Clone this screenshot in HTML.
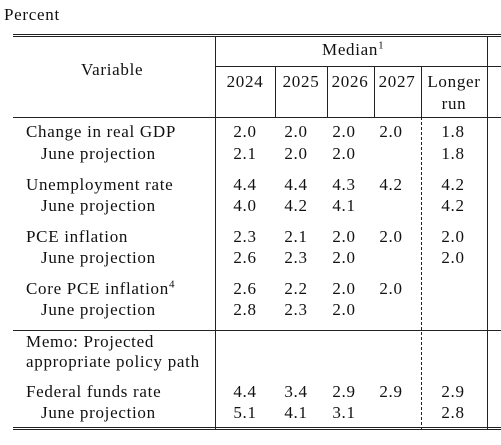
<!DOCTYPE html>
<html><head><meta charset="utf-8">
<style>
html,body{margin:0;padding:0;background:#fff;}
#c{position:relative;width:501px;height:445px;overflow:hidden;font-family:"Liberation Serif",serif;font-size:17px;letter-spacing:0.7px;color:#111;}
.t{position:absolute;white-space:nowrap;line-height:18px;}
.h{position:absolute;background:#222;height:1px;}
.v{position:absolute;background:#222;width:1px;}
.d{position:absolute;width:0;border-left:1px dashed #222;}
.n{position:absolute;width:60px;margin-left:-30px;text-align:center;line-height:18px;}
sup{font-size:11px;line-height:0;letter-spacing:0}
</style></head><body>
<div id="c">
<div class="t" style="left:4px;top:6px;">Percent</div>
<div class="h" style="left:13px;top:34px;width:488px;"></div>
<div class="h" style="left:13px;top:36px;width:488px;"></div>
<div class="v" style="left:215px;top:36px;height:394px;"></div>
<div class="v" style="left:487px;top:36px;height:394px;"></div>
<div class="t" style="left:81px;top:61px;">Variable</div>
<div class="t" style="left:322px;top:41px;">Median<sup>1</sup></div>
<div class="h" style="left:215px;top:66px;width:286px;"></div>
<div class="v" style="left:275px;top:66px;height:51px;"></div>
<div class="v" style="left:327px;top:66px;height:51px;"></div>
<div class="v" style="left:374px;top:66px;height:51px;"></div>
<div class="v" style="left:421px;top:66px;height:51px;"></div>
<div class="d" style="left:421px;top:117px;height:313px;"></div>
<div class="h" style="left:13px;top:117px;width:488px;"></div>
<div class="h" style="left:13px;top:330px;width:488px;"></div>
<div class="h" style="left:13px;top:427px;width:488px;"></div>
<div class="h" style="left:13px;top:429px;width:488px;"></div>
<div class="t" style="left:26px;top:332px;line-height:20px;">Memo: Projected<br>appropriate policy path</div>
</div>
<script>
var years=["2024","2025","2026","2027","Longer<br>run"];
var labels=["Change in real GDP","June projection","Unemployment rate","June projection","PCE inflation","June projection","Core PCE inflation<sup>4</sup>","June projection","Federal funds rate","June projection"];
var values=[["2.0","2.0","2.0","2.0","1.8"],["2.1","2.0","2.0","","1.8"],["4.4","4.4","4.3","4.2","4.2"],["4.0","4.2","4.1","","4.2"],["2.3","2.1","2.0","2.0","2.0"],["2.6","2.3","2.0","","2.0"],["2.6","2.2","2.0","2.0",""],["2.8","2.3","2.0","",""],["4.4","3.4","2.9","2.9","2.9"],["5.1","4.1","3.1","","2.8"]];
var rowY=[123,145,176,197,228,249,280,301,383,404];
var headX=[245,301,350,397,454];
var colX=[245,296,344,391,453];
var c=document.getElementById('c');
years.forEach(function(y,i){var e=document.createElement('div');e.className='n';e.style.left=headX[i]+'px';e.style.top='71px';e.style.lineHeight='22px';e.innerHTML=y;


c.appendChild(e);});
labels.forEach(function(l,r){var e=document.createElement('div');e.className='t';e.style.left=(r%2?41:26)+'px';e.style.top=rowY[r]+'px';e.innerHTML=l;


c.appendChild(e);
values[r].forEach(function(v,i){if(!v)return;var d=document.createElement('div');d.className='n';d.style.left=colX[i]+'px';d.style.top=rowY[r]+'px';d.textContent=v;


c.appendChild(d);});});
</script>
</body></html>
